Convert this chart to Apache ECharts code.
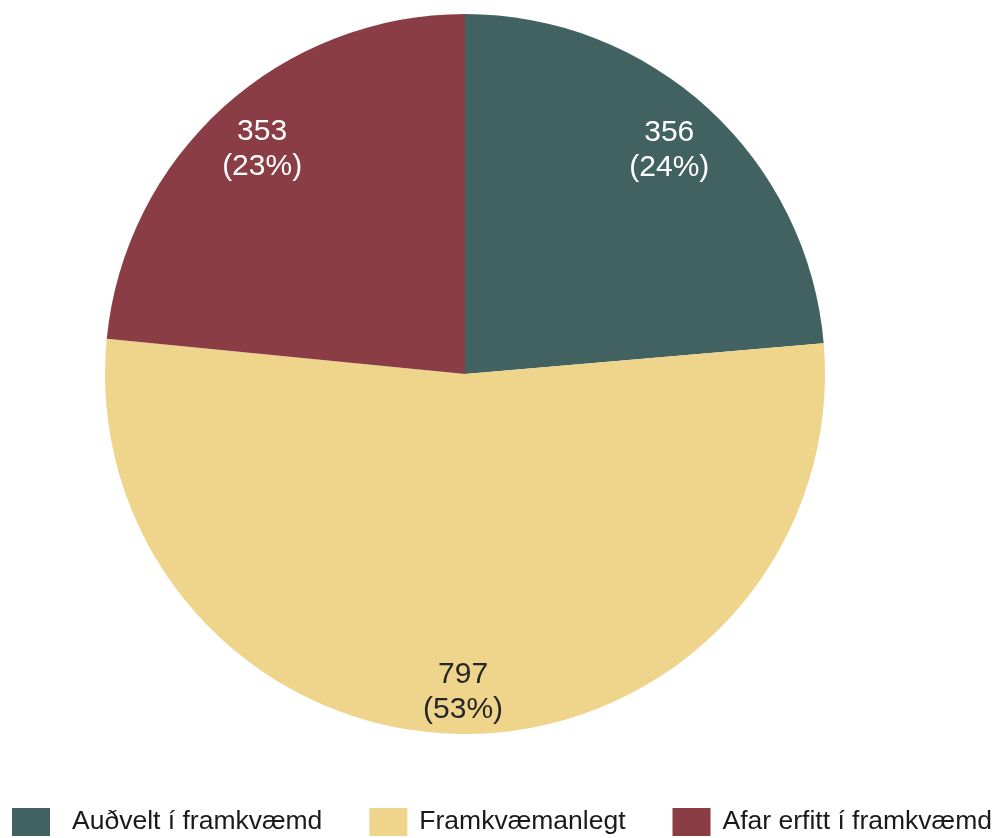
<!DOCTYPE html>
<html>
<head>
<meta charset="utf-8">
<script src="https://cdn.jsdelivr.net/npm/echarts@6/dist/echarts.min.js"></script>
<style>
  html, body { margin: 0; padding: 0; background: #fff; }
  #chart { width: 992px; height: 838px; }
</style>
</head>
<body>
<div id="chart"></div>
<script>
var categories = ['Auðvelt í framkvæmd', 'Framkvæmanlegt', 'Afar erfitt í framkvæmd'];
var values = [356, 797, 353];
var colors = ['#416260', '#EFD48B', '#8A3D45'];
var labelColors = ['#ffffff', '#262626', '#ffffff'];
// small nudges so the labels sit where the reference has them
var labelOffsets = [[-4, 3], [0, 10], [4, 3]];
// gap between legend swatch and its text (first one is wider in the original)
var legendTextGaps = [17, 7, 7];

var total = values.reduce(function (a, b) { return a + b; }, 0);

var pieData = categories.map(function (name, i) {
  return { name: name, value: values[i], itemStyle: { color: colors[i] } };
});
var labelData = categories.map(function (name, i) {
  return {
    name: name,
    value: values[i],
    itemStyle: { color: 'rgba(0,0,0,0)' },
    label: { color: labelColors[i], offset: labelOffsets[i] }
  };
});
var legendData = categories.map(function (name, i) {
  return { name: name, textStyle: { padding: [4, 0, 0, legendTextGaps[i]] } };
});

var option = {
  animation: false,
  legend: {
    left: 12,
    top: 808,
    width: 990,
    padding: 0,
    itemWidth: 38,
    itemHeight: 28,
    itemGap: 47,
    icon: 'rect',
    data: legendData,
    selectedMode: false,
    textStyle: {
      fontFamily: 'Liberation Sans, Arial, sans-serif',
      fontSize: 26.5,
      color: '#1a1a1a'
    }
  },
  series: [
    {
      type: 'pie',
      center: [465, 374],
      radius: [0, 360],
      startAngle: 90,
      clockwise: true,
      silent: true,
      label: { show: false },
      labelLine: { show: false },
      itemStyle: { borderWidth: 0 },
      data: pieData
    },
    {
      type: 'pie',
      center: [465, 374],
      radius: [250, 360],
      startAngle: 90,
      clockwise: true,
      silent: true,
      legendHoverLink: false,
      labelLine: { show: false },
      label: {
        show: true,
        position: 'inside',
        fontFamily: 'Liberation Sans, Arial, sans-serif',
        fontSize: 30,
        lineHeight: 35,
        formatter: function (p) {
          return p.value + '\n(' + Math.round(p.value / total * 100) + '%)';
        }
      },
      data: labelData
    }
  ]
};

var myChart = echarts.init(document.getElementById('chart'));
myChart.setOption(option);
</script>
</body>
</html>
